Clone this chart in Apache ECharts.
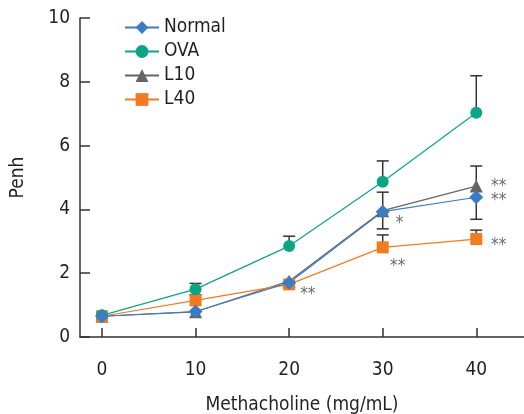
<!DOCTYPE html>
<html>
<head>
<meta charset="utf-8">
<script src="https://cdn.jsdelivr.net/npm/echarts@6/dist/echarts.min.js"></script>
<style>
html,body{margin:0;padding:0;background:#fff;}
#c{width:524px;height:414px;}
</style>
</head>
<body>
<div id="c"></div>
<script>
// ---- data ----
const doses = [0, 10, 20, 30, 40];
const xTicks = [0, 10, 20, 30, 40];
const normal = [0.65, 0.80, 1.70, 3.93, 4.38];
const ova    = [0.68, 1.50, 2.85, 4.87, 7.03];
const l10    = [0.65, 0.79, 1.75, 3.96, 4.73];
const l40    = [0.65, 1.15, 1.65, 2.81, 3.07];
// error bars (one-sided as drawn)
const normalErrDown = [0, 0, 0, 0.54, 0.69];
const ovaErrUp      = [0, 0.18, 0.31, 0.65, 1.16];
const l10ErrUp      = [0, 0, 0, 0.58, 0.63];
const l40ErrUp      = [0, 0.17, 0, 0.39, 0.28];
// significance marks placed in data units: [dose, penh, text]
const marks = [
  [31.8, 3.67, '*'],
  [22.0, 1.44, '**'],
  [31.6, 2.32, '**'],
  [42.4, 4.83, '**'],
  [42.4, 4.39, '**'],
  [42.4, 2.98, '**']
];

const FONT = '"Liberation Sans Narrow", "DejaVu Sans Condensed", "Liberation Sans", sans-serif';
const TXT = '#231f20';
const AX = '#333333';
const C = {normal:'#3b7dc4', ova:'#0aa586', l10:'#656565', l40:'#f47a20'};
const FS = 19;

function pairs(vals){ return doses.map((d,i)=>[d, vals[i]]); }
function errData(vals, err, dir){
  const out = [];
  doses.forEach((d,i)=>{ if(err[i] > 0){ out.push([d, vals[i], vals[i] + dir*err[i]]); } });
  return out;
}
const errAll = [].concat(
  errData(ova, ovaErrUp, 1),
  errData(l10, l10ErrUp, 1),
  errData(normal, normalErrDown, -1),
  errData(l40, l40ErrUp, 1)
);

const chart = echarts.init(document.getElementById('c'), null, {renderer:'canvas'});
const lineBase = (name, vals, color, symbol, size) => ({
  name, type:'line', data: pairs(vals), symbol, symbolSize:size,
  itemStyle:{color}, lineStyle:{color, width:1.2}, z:5, animation:false
});
chart.setOption({
  animation:false,
  textStyle:{fontFamily:FONT},
  grid:{left:80, right:0, top:18, bottom:77, containLabel:false, outerBoundsMode:'none'},
  legend:{
    left:119, top:13, orient:'vertical', itemWidth:34, itemHeight:16, itemGap:5,
    textStyle:{fontFamily:FONT, fontSize:FS, lineHeight:16, color:TXT},
    data:['Normal','OVA','L10','L40']
  },
  xAxis:{
    type:'value', min:-2.35, max:45.1,
    name:'Methacholine (mg/mL)', nameLocation:'middle', nameGap:59,
    nameTextStyle:{fontFamily:FONT, fontSize:FS, color:TXT},
    axisLine:{onZero:false, lineStyle:{color:AX, width:1.5}},
    axisTick:{inside:true, length:9, lineStyle:{color:AX, width:1.5}, customValues:xTicks},
    axisLabel:{fontFamily:FONT, fontSize:FS, color:TXT, margin:24, customValues:xTicks},
    splitLine:{show:false}
  },
  yAxis:{
    type:'value', min:0, max:10, interval:2,
    name:'Penh', nameLocation:'middle', nameGap:52, nameRotate:90,
    nameTextStyle:{fontFamily:FONT, fontSize:FS, color:TXT},
    axisLine:{show:true, onZero:false, lineStyle:{color:AX, width:1.5}},
    axisTick:{show:true, inside:true, length:10, lineStyle:{color:AX, width:1.5}},
    axisLabel:{fontFamily:FONT, fontSize:FS, color:TXT, margin:10},
    splitLine:{show:false}
  },
  series:[
    {
      type:'custom', name:'err', data: errAll, z:3, silent:true,
      renderItem:(params, api)=>{
        const p0 = api.coord([api.value(0), api.value(1)]);
        const p1 = api.coord([api.value(0), api.value(2)]);
        const st = {stroke:AX, lineWidth:1.5};
        return {type:'group', children:[
          {type:'line', shape:{x1:p0[0], y1:p0[1], x2:p1[0], y2:p1[1]}, style:st},
          {type:'line', shape:{x1:p1[0]-6, y1:p1[1], x2:p1[0]+6, y2:p1[1]}, style:st}
        ]};
      }
    },
    lineBase('L10', l10, C.l10, 'triangle', 13),
    lineBase('L40', l40, C.l40, 'rect', 12),
    lineBase('OVA', ova, C.ova, 'circle', 12),
    lineBase('Normal', normal, C.normal, 'diamond', 14),
    {
      type:'scatter', name:'sig', data: marks.map(m=>({value:[m[0], m[1]], text:m[2]})),
      symbolSize:0, silent:true, z:10,
      label:{show:true, position:'inside', offset:[0,4],
        formatter:p=>p.data.text, fontFamily:FONT, fontSize:17, color:'#444'}
    }
  ]
});
</script>
</body>
</html>
